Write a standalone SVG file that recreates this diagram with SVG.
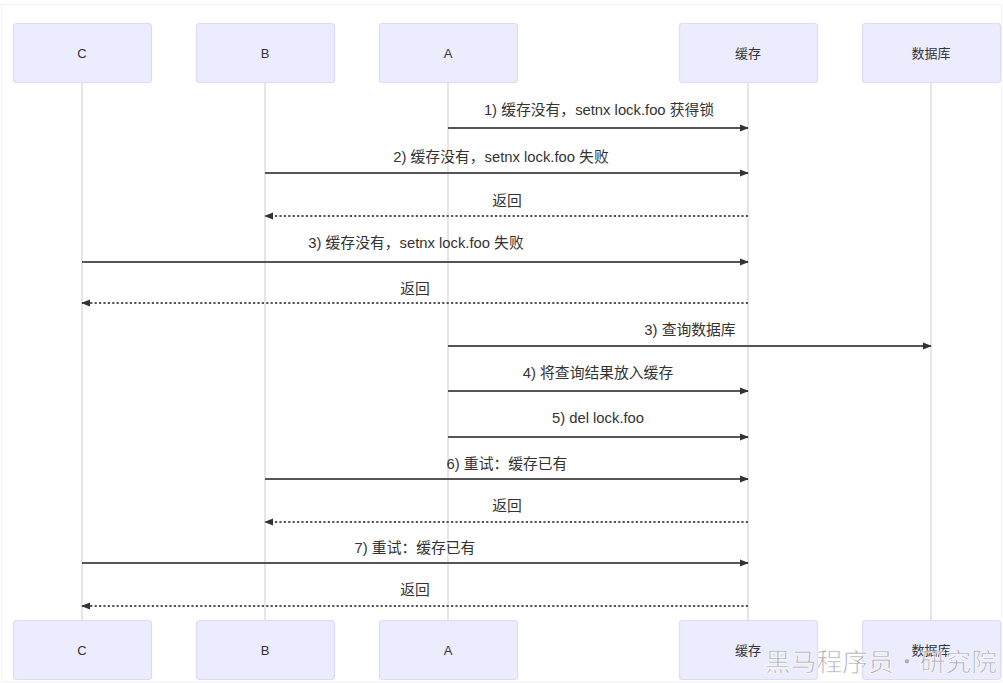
<svg xmlns="http://www.w3.org/2000/svg" width="1003" height="683" viewBox="0 0 1003 683">
<style>
.actor{fill:#ECECFF;stroke:#DCDCFA;stroke-width:1.2}
.atext{font-family:"Liberation Sans","Noto Sans CJK SC",sans-serif;font-size:13px;fill:#333;text-anchor:middle;dominant-baseline:central}
.life{stroke:#D6D6D6;stroke-width:1.2}
.msg{stroke:#555;stroke-width:1.8;fill:none}
.ret{stroke:#555;stroke-width:1.8;fill:none;stroke-dasharray:2.2,2.2}
.mtext{font-family:"Liberation Sans","Noto Sans CJK SC",sans-serif;font-size:14.8px;fill:#333;text-anchor:middle;dominant-baseline:central}
.wm{font-family:"Noto Sans CJK SC",sans-serif;font-size:25px;fill:#9a9a9a;fill-opacity:0.75;stroke:#fff;stroke-width:0.6}
</style>
<defs>
<marker id="ah" viewBox="0 0 10 10" refX="9" refY="5" markerWidth="9" markerHeight="9" markerUnits="userSpaceOnUse" orient="auto">
<path d="M0,1 L10,5 L0,9 z" fill="#333"/>
</marker>
</defs>
<rect x="0" y="0" width="1003" height="683" fill="#fff"/>
<rect x="1.5" y="4.5" width="1000" height="677" fill="none" stroke="#F2F2F2" stroke-width="1"/>
<g id="lifelines">
<line class="life" x1="82" y1="82" x2="82" y2="620"/>
<line class="life" x1="265" y1="82" x2="265" y2="620"/>
<line class="life" x1="448" y1="82" x2="448" y2="620"/>
<line class="life" x1="748" y1="82" x2="748" y2="620"/>
<line class="life" x1="931" y1="82" x2="931" y2="620"/>
</g>
<g id="actor-C"><rect class="actor" x="13.5" y="23.5" width="138" height="59" rx="3"/><text class="atext" x="82" y="53">C</text></g>
<g id="actor-B"><rect class="actor" x="196.5" y="23.5" width="138" height="59" rx="3"/><text class="atext" x="265" y="53">B</text></g>
<g id="actor-A"><rect class="actor" x="379.5" y="23.5" width="138" height="59" rx="3"/><text class="atext" x="448" y="53">A</text></g>
<g id="actor-cache"><rect class="actor" x="679.5" y="23.5" width="138" height="59" rx="3"/><text class="atext" x="748" y="53">缓存</text></g>
<g id="actor-db"><rect class="actor" x="862.5" y="23.5" width="138" height="59" rx="3"/><text class="atext" x="931" y="53">数据库</text></g>
<g id="actor-C-bottom"><rect class="actor" x="13.5" y="620.5" width="138" height="59" rx="3"/><text class="atext" x="82" y="650">C</text></g>
<g id="actor-B-bottom"><rect class="actor" x="196.5" y="620.5" width="138" height="59" rx="3"/><text class="atext" x="265" y="650">B</text></g>
<g id="actor-A-bottom"><rect class="actor" x="379.5" y="620.5" width="138" height="59" rx="3"/><text class="atext" x="448" y="650">A</text></g>
<g id="actor-cache-bottom"><rect class="actor" x="679.5" y="620.5" width="138" height="59" rx="3"/><text class="atext" x="748" y="650">缓存</text></g>
<g id="actor-db-bottom"><rect class="actor" x="862.5" y="620.5" width="138" height="59" rx="3"/><text class="atext" x="931" y="650">数据库</text></g>
<g id="connectors">
<line class="msg" x1="448" y1="128" x2="748" y2="128" marker-end="url(#ah)"/>
<line class="msg" x1="265" y1="173" x2="748" y2="173" marker-end="url(#ah)"/>
<line class="ret" x1="748" y1="216" x2="265" y2="216" marker-end="url(#ah)"/>
<line class="msg" x1="82" y1="262" x2="748" y2="262" marker-end="url(#ah)"/>
<line class="ret" x1="748" y1="303" x2="82" y2="303" marker-end="url(#ah)"/>
<line class="msg" x1="448" y1="346" x2="931" y2="346" marker-end="url(#ah)"/>
<line class="msg" x1="448" y1="391" x2="748" y2="391" marker-end="url(#ah)"/>
<line class="msg" x1="448" y1="437" x2="748" y2="437" marker-end="url(#ah)"/>
<line class="msg" x1="265" y1="479" x2="748" y2="479" marker-end="url(#ah)"/>
<line class="ret" x1="748" y1="522" x2="265" y2="522" marker-end="url(#ah)"/>
<line class="msg" x1="82" y1="563" x2="748" y2="563" marker-end="url(#ah)"/>
<line class="ret" x1="748" y1="606" x2="82" y2="606" marker-end="url(#ah)"/>
</g>
<g id="labels">
<text class="mtext" x="599" y="110">1) 缓存没有，setnx lock.foo 获得锁</text>
<text class="mtext" x="501" y="157">2) 缓存没有，setnx lock.foo 失败</text>
<text class="mtext" x="507" y="201">返回</text>
<text class="mtext" x="416" y="243">3) 缓存没有，setnx lock.foo 失败</text>
<text class="mtext" x="415" y="289">返回</text>
<text class="mtext" x="690" y="330">3) 查询数据库</text>
<text class="mtext" x="598" y="373">4) 将查询结果放入缓存</text>
<text class="mtext" x="598" y="418">5) del lock.foo</text>
<text class="mtext" x="507" y="464">6) 重试：缓存已有</text>
<text class="mtext" x="507" y="506">返回</text>
<text class="mtext" x="415" y="548">7) 重试：缓存已有</text>
<text class="mtext" x="415" y="590">返回</text>
</g>
<text class="wm" x="765" y="671" textLength="232" lengthAdjust="spacingAndGlyphs">黑马程序员·研究院</text>
</svg>
